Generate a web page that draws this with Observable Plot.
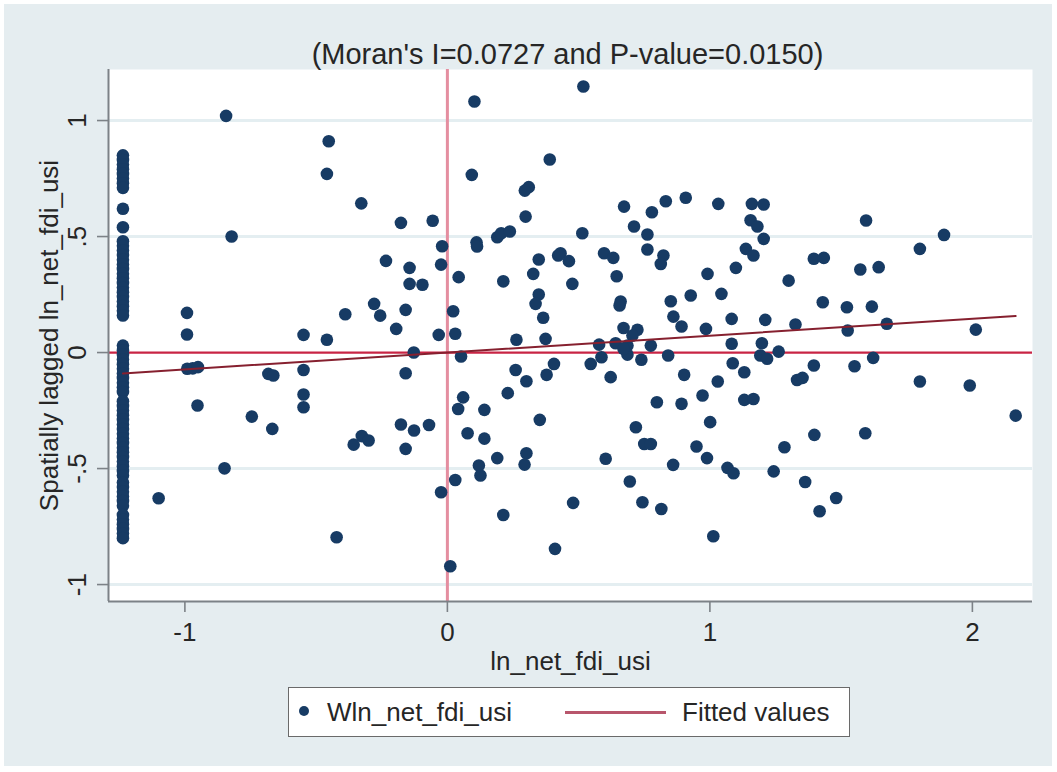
<!DOCTYPE html>
<html><head><meta charset="utf-8">
<script src="https://cdn.jsdelivr.net/npm/d3@7"></script>
<script src="https://cdn.jsdelivr.net/npm/@observablehq/plot@0.6"></script>
<style>
body{margin:0;background:#fff;font-family:"Liberation Sans",Arial,sans-serif;}
#bg{position:absolute;left:4px;top:4px;width:1048px;height:762px;background:#e5edf0;}
#chart{position:absolute;left:0;top:0;}
#legend{position:absolute;left:288px;top:687px;width:562px;height:50px;background:#fff;border:1.5px solid #6a6a6a;box-sizing:border-box;color:#262626;font-size:26px;}
#legend .dot{position:absolute;left:10px;top:18px;width:10px;height:10px;border-radius:50%;background:#173b64;}
#legend .t1{position:absolute;left:38px;top:9px;line-height:30px;}
#legend .ln{position:absolute;left:276px;top:23px;width:101px;height:2.5px;background:#b8566c;}
#legend .t2{position:absolute;left:393px;top:9px;line-height:30px;}
</style></head><body>
<div id="bg"></div>
<div id="chart"></div>
<div id="legend"><span class="dot"></span><span class="t1">Wln_net_fdi_usi</span><span class="ln"></span><span class="t2">Fitted values</span></div>
<script>
const titleText = "(Moran's I=0.0727 and P-value=0.0150)";
const xLabel = "ln_net_fdi_usi";
const yLabel = "Spatially lagged ln_net_fdi_usi";
const seriesName = "Wln_net_fdi_usi";
const fitName = "Fitted values";

const xTicks = [-1, 0, 1, 2];
const xTickLabels = ["-1", "0", "1", "2"];
const yTicks = [-1, -0.5, 0, 0.5, 1];
const yTickLabels = ["-1", "-.5", "0", ".5", "1"];

// fitted line (slope = Moran's I)
const fitSlope = 0.0727;
const fitIntercept = 0.0;

// observations at the lower bound of ln_net_fdi_usi
const leftColumnX = -1.236;
const leftColumnY = [0.85, 0.83, 0.81, 0.79, 0.77, 0.75, 0.73, 0.71, 0.62, 0.54, 0.48, 0.46, 0.44, 0.42,
  0.40, 0.38, 0.36, 0.34, 0.32, 0.30, 0.28, 0.26, 0.24, 0.22, 0.20, 0.18, 0.16, 0.03, 0.01, -0.01,
  -0.03, -0.05, -0.07, -0.09, -0.11, -0.13, -0.15, -0.17, -0.21, -0.23, -0.25, -0.27, -0.29, -0.31,
  -0.33, -0.35, -0.37, -0.39, -0.41, -0.43, -0.45, -0.47, -0.49, -0.51, -0.53, -0.56, -0.58, -0.60,
  -0.62, -0.64, -0.66, -0.70, -0.72, -0.74, -0.76, -0.78, -0.80];

const pointsX = [-0.992, -0.992, -0.843, -0.452, -0.459, -0.328, -0.822, -0.177, -0.056, -0.020, -0.024,
  -0.234, -0.144, -0.144, -0.095, -0.279, -0.256, -0.159, -0.195, -0.033, 0.030, 0.022, -0.389, -0.548,
  -0.459, -0.128, -0.991, -0.970, -0.950, -0.952, -0.682, -0.663, -0.548, -0.548, -0.548, -0.745, -0.667,
  -0.849, -1.100, -0.422, -0.159, -0.177, -0.127, -0.070, -0.159, -0.357, -0.326, -0.300, -0.024, 0.030,
  0.011, 0.518, 0.103, 0.390, 0.093, 0.310, 0.295, 0.298, 0.514, 0.111, 0.113, 0.190, 0.205, 0.238,
  0.043, 0.213, 0.263, 0.374, 0.348, 0.327, 0.348, 0.336, 0.365, 0.422, 0.431, 0.463, 0.476, 0.597,
  0.632, 0.645, 0.660, 0.656, 0.671, 0.724, 0.705, 0.578, 0.641, 0.686, 0.673, 0.711, 0.762, 0.762,
  0.779, 0.832, 0.908, 1.032, 1.160, 1.205, 1.155, 1.181, 1.205, 1.137, 1.166, 0.823, 0.813, 0.991,
  1.099, 0.851, 0.861, 0.892, 0.927, 1.044, 0.985, 1.083, 1.083, 0.775, 0.052, 0.546, 0.587, 0.686,
  0.671, 0.739, 0.841, 0.622, 0.406, 0.378, 0.260, 0.301, 0.230, 0.060, 0.041, 0.141, 0.077, 0.141,
  0.190, 0.120, 0.126, 0.301, 0.294, 0.352, 0.213, 0.479, 0.410, 0.603, 0.718, 0.750, 0.775, 0.695,
  0.743, 0.815, 0.798, 0.902, 0.892, 0.860, 0.972, 1.030, 1.001, 0.949, 0.989, 1.067, 1.090, 1.013,
  1.087, 1.131, 1.131, 1.166, 1.595, 1.892, 1.800, 1.396, 1.434, 1.573, 1.643, 1.300, 1.430, 1.522,
  1.617, 1.525, 1.674, 2.013, 1.211, 1.326, 1.198, 1.192, 1.218, 1.262, 1.396, 1.551, 1.622, 1.332,
  1.353, 1.800, 1.990, 2.165, 1.398, 1.592, 1.284, 1.243, 1.363, 1.481, 1.418];

const pointsY = [0.171, 0.078, 1.020, 0.911, 0.770, 0.643, 0.500, 0.559, 0.568, 0.458, 0.379,
  0.395, 0.365, 0.296, 0.292, 0.210, 0.159, 0.184, 0.102, 0.076, 0.081, 0.178, 0.165, 0.076,
  0.055, 0.000, -0.070, -0.068, -0.063, -0.228, -0.092, -0.099, -0.075, -0.181, -0.236, -0.276, -0.329,
  -0.499, -0.628, -0.796, -0.089, -0.310, -0.336, -0.312, -0.415, -0.397, -0.360, -0.379, -0.602, -0.549,
  -0.921, 1.147, 1.082, 0.832, 0.766, 0.713, 0.698, 0.586, 0.514, 0.475, 0.457, 0.497, 0.514, 0.522,
  0.325, 0.307, 0.055, 0.059, 0.401, 0.339, 0.250, 0.210, 0.150, 0.418, 0.428, 0.394, 0.296, 0.428,
  0.408, 0.329, 0.220, 0.203, 0.106, 0.098, 0.073, 0.034, 0.040, 0.030, 0.629, 0.543, 0.509, 0.444,
  0.605, 0.652, 0.667, 0.641, 0.641, 0.638, 0.570, 0.543, 0.490, 0.447, 0.418, 0.418, 0.382, 0.339,
  0.365, 0.221, 0.155, 0.112, 0.246, 0.253, 0.102, 0.145, 0.038, 0.030, -0.017, -0.049, -0.020, -0.009,
  0.016, -0.031, -0.013, -0.106, -0.049, -0.096, -0.075, -0.124, -0.175, -0.193, -0.243, -0.247, -0.348, -0.371,
  -0.455, -0.487, -0.530, -0.434, -0.483, -0.290, -0.700, -0.648, -0.846, -0.458, -0.322, -0.394, -0.394, -0.556,
  -0.645, -0.674, -0.214, -0.096, -0.221, -0.484, -0.185, -0.125, -0.300, -0.405, -0.455, -0.497, -0.520, -0.792,
  -0.046, -0.085, -0.204, -0.200, 0.569, 0.507, 0.447, 0.404, 0.408, 0.358, 0.368, 0.310, 0.217, 0.195,
  0.198, 0.095, 0.124, 0.099, 0.141, 0.121, 0.040, -0.013, -0.027, 0.004, -0.056, -0.059, -0.023, -0.118,
  -0.109, -0.125, -0.142, -0.272, -0.355, -0.348, -0.408, -0.512, -0.558, -0.627, -0.684];

const data = [
  ...leftColumnY.map(y => ({x: leftColumnX, y})),
  ...pointsX.map((x, i) => ({x, y: pointsY[i]}))
];
const [xMin, xMax] = d3.extent(data, d => d.x);
const fitData = [xMin, xMax].map(x => ({x, y: fitIntercept + fitSlope * x}));

const xDomain = [-1.291, 2.229];
const yDomain = [-1.073, 1.22];
const xFmt = new Map(xTicks.map((t, i) => [t, xTickLabels[i]]));
const yFmt = new Map(yTicks.map((t, i) => [t, yTickLabels[i]]));
const ink = "#262626";
const axisGray = "#7c8287";

const chart = Plot.plot({
  width: 1057,
  height: 680,
  marginLeft: 108,
  marginRight: 25,
  marginTop: 69,
  marginBottom: 79,
  style: {background: "transparent", fontFamily: "'Liberation Sans', Arial, sans-serif", color: ink, overflow: "visible"},
  x: {domain: xDomain},
  y: {domain: yDomain},
  marks: [
    Plot.frame({fill: "white", stroke: "none"}),
    Plot.gridY(yTicks.filter(t => t !== 0), {stroke: "#e4eef1", strokeOpacity: 1, strokeWidth: 3}),
    Plot.ruleX([0], {stroke: "#e48ea0", strokeWidth: 3}),
    Plot.ruleY([0], {stroke: "#c82444", strokeWidth: 2.3}),
    Plot.dot(data, {x: "x", y: "y", r: 6.3, fill: "#173b64", stroke: "none"}),
    Plot.line(fitData, {x: "x", y: "y", stroke: "#86202f", strokeWidth: 2}),
    Plot.ruleX([xDomain[0]], {stroke: axisGray, strokeWidth: 2}),
    Plot.ruleY([yDomain[0]], {stroke: axisGray, strokeWidth: 2}),
    Plot.axisX(xTicks, {tickSize: 11, tickPadding: 10, fontSize: 26, stroke: axisGray, strokeWidth: 1.6, fill: ink, tickFormat: d => xFmt.get(d), label: null}),
    Plot.axisY(yTicks, {tickSize: 11, tickPadding: 12, tickRotate: -90, fontSize: 26, stroke: axisGray, strokeWidth: 1.6, fill: ink, tickFormat: d => yFmt.get(d), label: null}),
    Plot.text([titleText], {frameAnchor: "top", lineAnchor: "bottom", dy: -6, dx: -3, fontSize: 29, fill: ink}),
    Plot.text([xLabel], {frameAnchor: "bottom", lineAnchor: "bottom", dy: 68, fontSize: 26, fill: ink}),
    Plot.text([yLabel], {frameAnchor: "left", textAnchor: "middle", lineAnchor: "bottom", rotate: -90, dx: -51, fontSize: 26, fill: ink})
  ]
});
document.getElementById("chart").appendChild(chart);
</script>
</body></html>
